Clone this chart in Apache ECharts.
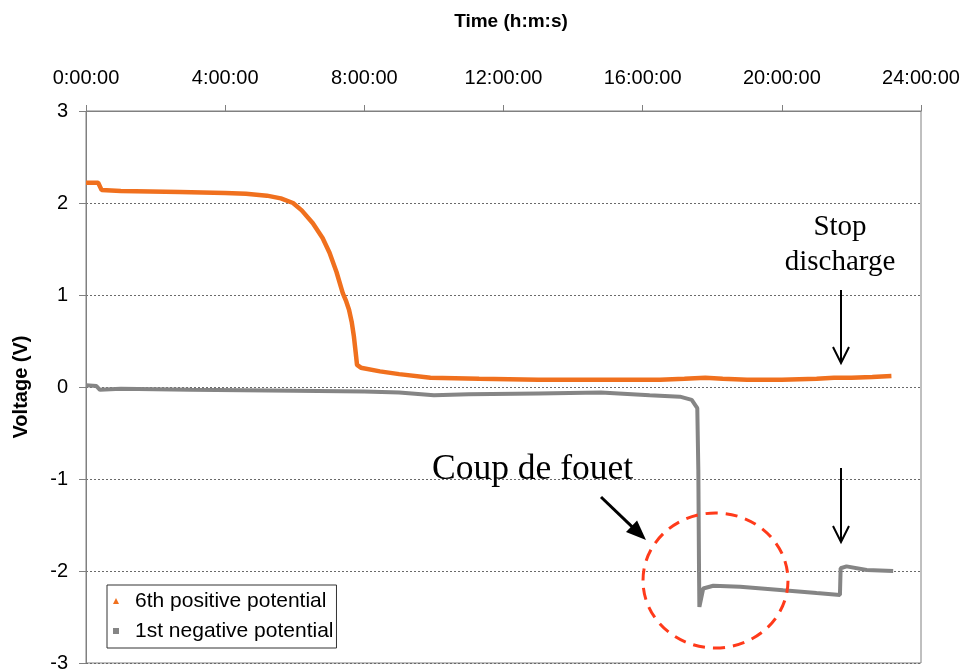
<!DOCTYPE html>
<html><head><meta charset="utf-8">
<script src="https://cdn.jsdelivr.net/npm/echarts@6/dist/echarts.min.js"></script>
<style>html,body{margin:0;padding:0;background:#fff}#c{width:964px;height:672px}</style>
</head><body><div id="c"></div>
<script>
// ---- data ----
const seriesNames = ['6th positive potential', '1st negative potential'];
const xAxisTitle = 'Time (h:m:s)';
const yAxisTitle = 'Voltage (V)';
const xTickHours = [0, 4, 8, 12, 16, 20, 24];
const xTickLabels = ['0:00:00', '4:00:00', '8:00:00', '12:00:00', '16:00:00', '20:00:00', '24:00:00'];

// 6th positive potential (hours, volts)
const posTime = [0, 0.35, 0.45, 1.0, 2.7, 4.0, 4.6, 5.2, 5.6, 5.95, 6.2, 6.52, 6.8, 7.0, 7.2, 7.38, 7.48, 7.56, 7.64, 7.70, 7.75, 7.79, 7.9, 8.45, 9.0, 9.9, 11.3, 13.0, 15.0, 16.5, 17.2, 17.8, 18.3, 19.0, 20.0, 21.0, 21.5, 22.0, 22.6, 23.15];
const posVolt = [2.22, 2.22, 2.14, 2.13, 2.12, 2.11, 2.10, 2.08, 2.05, 2.00, 1.92, 1.78, 1.62, 1.46, 1.25, 1.02, 0.93, 0.84, 0.70, 0.55, 0.38, 0.24, 0.21, 0.17, 0.14, 0.10, 0.09, 0.08, 0.08, 0.08, 0.09, 0.10, 0.09, 0.08, 0.08, 0.09, 0.10, 0.10, 0.11, 0.12];

// 1st negative potential (hours, volts)
const negTime = [0, 0.3, 0.4, 1.0, 3.0, 6.0, 8.0, 9.0, 10.0, 11.0, 13.0, 14.8, 16.2, 17.07, 17.41, 17.57, 17.6, 17.62, 17.63, 17.74, 18.03, 18.8, 20.04, 21.0, 21.67, 21.69, 21.86, 22.44, 23.2];
const negVolt = [0.02, 0.01, -0.03, -0.02, -0.03, -0.04, -0.05, -0.06, -0.09, -0.08, -0.07, -0.06, -0.09, -0.105, -0.14, -0.23, -0.9, -2.0, -2.39, -2.19, -2.16, -2.17, -2.21, -2.24, -2.26, -1.97, -1.95, -1.99, -2.0];

const noteCoup = 'Coup de fouet';
const noteStop = ['Stop', 'discharge'];

// ---- chart ----
const toPairs = (xs, ys) => xs.map((x, i) => [x, ys[i]]);
const orange = '#F0701E';
const gray = '#858585';

function arrow(x1, y1, x2, y2, headLen, headHalf, filled, width) {
  const dx = x2 - x1, dy = y2 - y1, L = Math.hypot(dx, dy);
  const ux = dx / L, uy = dy / L, px = -uy, py = ux;
  const bx = x2 - ux * headLen, by = y2 - uy * headLen;
  const a = [bx + px * headHalf, by + py * headHalf];
  const b = [bx - px * headHalf, by - py * headHalf];
  const els = [{
    type: 'line', z: 100,
    shape: { x1: x1, y1: y1, x2: filled ? bx + ux * 2 : x2, y2: filled ? by + uy * 2 : y2 },
    style: { stroke: '#000', lineWidth: width }
  }];
  if (filled) {
    els.push({ type: 'polygon', z: 100, shape: { points: [a, [x2, y2], b] }, style: { fill: '#000' } });
  } else {
    els.push({ type: 'polyline', z: 100, shape: { points: [a, [x2, y2], b] }, style: { stroke: '#000', lineWidth: width, fill: null } });
  }
  return els;
}

const chart = echarts.init(document.getElementById('c'), null, { renderer: 'canvas' });
const option = {
  backgroundColor: '#fff',
  animation: false,
  textStyle: { fontFamily: 'Liberation Sans, Arial, sans-serif' },
  grid: { left: 86, right: 43, top: 111, bottom: 9, show: true, borderColor: '#808080', borderWidth: 1, containLabel: false, outerBoundsMode: 'none' },
  legend: {
    orient: 'vertical', left: 107, top: 585,
    padding: [5, 3, 6, 6], itemGap: 8, itemWidth: 6, itemHeight: 6,
    borderColor: '#333', borderWidth: 1, backgroundColor: '#fff',
    textStyle: { fontSize: 21, color: '#000', lineHeight: 22, padding: [0, 0, 0, 11], fontFamily: 'Liberation Sans, Arial, sans-serif' },
    data: [
      { name: seriesNames[0], icon: 'triangle', itemStyle: { color: orange } },
      { name: seriesNames[1], icon: 'rect', itemStyle: { color: gray } }
    ]
  },
  xAxis: {
    type: 'value', position: 'top', min: 0, max: 24, interval: 4,
    name: xAxisTitle, nameLocation: 'middle', nameGap: 80,
    nameTextStyle: { fontSize: 19, fontWeight: 'bold', color: '#000', lineHeight: 19, padding: [0, 0, 0, 15] },
    axisLine: { show: true, onZero: false, lineStyle: { color: '#808080', width: 1 } },
    axisTick: { show: true, inside: false, length: 6, lineStyle: { color: '#808080' } },
    axisLabel: { fontSize: 20, color: '#000', margin: 23, lineHeight: 20,
      formatter: v => { const i = xTickHours.indexOf(v); return i >= 0 ? xTickLabels[i] : ''; } },
    splitLine: { show: false }
  },
  yAxis: {
    type: 'value', min: -3, max: 3, interval: 1,
    name: yAxisTitle, nameLocation: 'middle', nameGap: 55,
    nameTextStyle: { fontSize: 20, fontWeight: 'bold', color: '#000', lineHeight: 20 },
    axisLine: { show: true, onZero: false, lineStyle: { color: '#808080', width: 1 } },
    axisTick: { show: true, inside: false, length: 7, lineStyle: { color: '#808080' } },
    axisLabel: { fontSize: 20, color: '#000', margin: 18 },
    splitLine: { show: true, lineStyle: { color: '#6a6a6a', type: [2, 2], width: 1 } }
  },
  series: [
    { name: seriesNames[0], type: 'line', data: toPairs(posTime, posVolt), showSymbol: false, symbol: 'triangle',
      lineStyle: { color: orange, width: 4.5 }, itemStyle: { color: orange }, z: 3 },
    { name: seriesNames[1], type: 'line', data: toPairs(negTime, negVolt), showSymbol: false, symbol: 'rect',
      lineStyle: { color: gray, width: 4 }, itemStyle: { color: gray }, z: 2 }
  ],
  graphic: [
    { type: 'text', z: 100, x: 432, y: 470, style: { text: noteCoup, font: '35.5px "Liberation Serif", "Times New Roman", serif', fill: '#000', verticalAlign: 'middle', align: 'left' } },
    { type: 'text', z: 100, x: 840, y: 227, style: { text: noteStop[0], font: '29px "Liberation Serif", "Times New Roman", serif', fill: '#000', verticalAlign: 'middle', align: 'center' } },
    { type: 'text', z: 100, x: 840, y: 262, style: { text: noteStop[1], font: '29px "Liberation Serif", "Times New Roman", serif', fill: '#000', verticalAlign: 'middle', align: 'center' } },
    { type: 'ellipse', z: 100, shape: { cx: 715.5, cy: 580.5, rx: 72.5, ry: 67.5 },
      style: { fill: null, stroke: '#FF3A1A', lineWidth: 3, lineDash: [12, 8] } }
  ]
    .concat(arrow(601, 497, 646, 540, 20, 8, true, 3))
    .concat(arrow(841, 290, 841, 363, 16, 8, false, 2))
    .concat(arrow(841, 468, 841, 542, 16, 8, false, 2))
};
chart.setOption(option);
</script>
</body></html>
